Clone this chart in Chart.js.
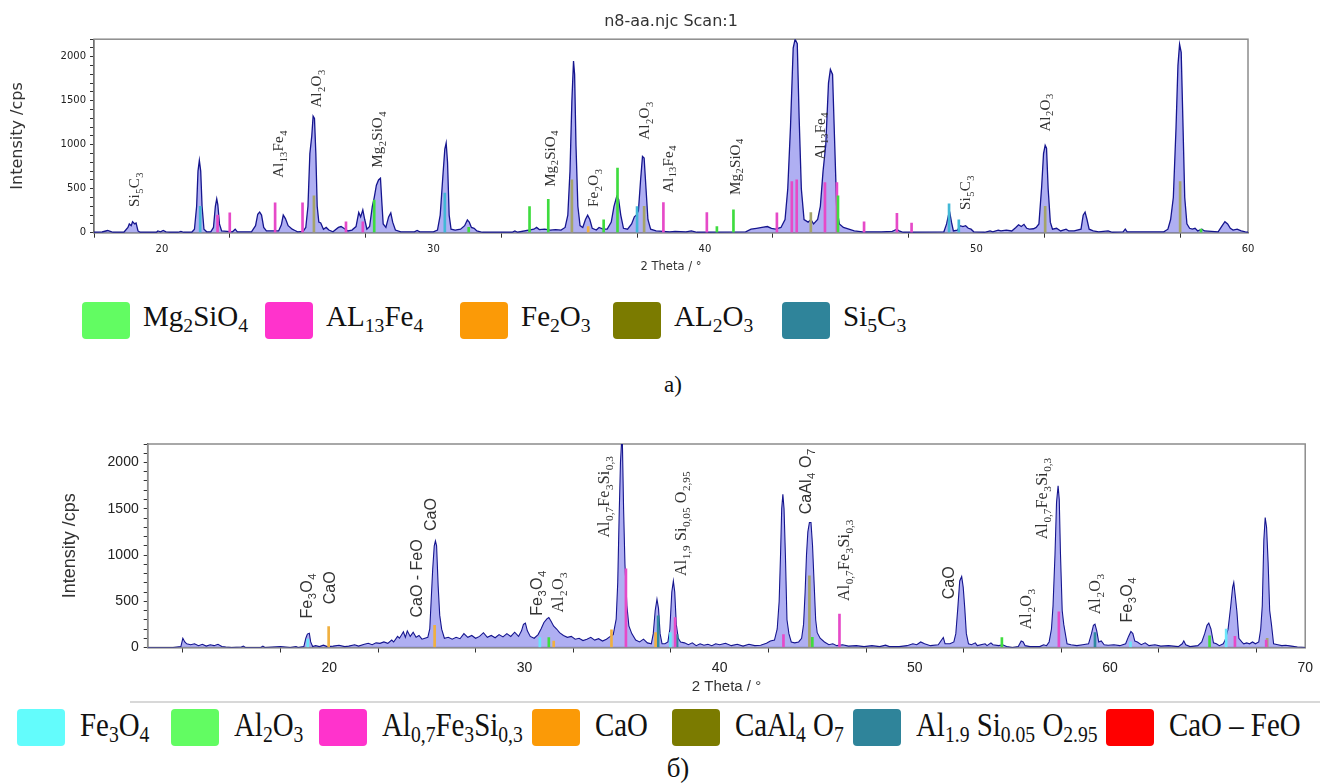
<!DOCTYPE html>
<html>
<head>
<meta charset="utf-8">
<script src="https://cdn.jsdelivr.net/npm/chart.js@4.4.1/dist/chart.umd.min.js"></script>
<style>
  html, body { margin: 0; padding: 0; background: #fff; }
  body { width: 1320px; height: 783px; position: relative; overflow: hidden; }
  .wrap { position: absolute; left: 0; width: 1320px; }
  #wrapA { top: 0; height: 280px; }
  #wrapB { top: 420px; height: 280px; }
  .sw { position: absolute; width: 48px; height: 37px; border-radius: 4px; }
  .lt { position: absolute; font-family: 'Liberation Serif', 'Times New Roman', serif; color: #111;
        white-space: nowrap; line-height: 1; transform-origin: left top; }
  .lt sub { font-size: 0.68em; vertical-align: -0.28em; line-height: 0; }
  .cap { position: absolute; font-family: 'Liberation Serif', serif; color: #111; line-height: 1;
         transform: translateX(-50%); }
  #sep { position: absolute; left: 130px; right: 0; top: 701px; height: 2px; background: #d8d8d8; }
</style>
</head>
<body>
<div class="wrap" id="wrapA"><canvas id="chartA"></canvas></div>
<div class="wrap" id="wrapB"><canvas id="chartB"></canvas></div>
<div id="legendA"></div>
<div id="sep"></div>
<div id="legendB"></div>
<div class="cap" style="left:673px; top:373px; font-size:23px;">a)</div>
<div class="cap" style="left:678px; top:755px; font-size:27px;">б)</div>
<script>
// ---- chart a) : scan n8-aa, 2theta vs intensity ----
const scanA = [
  [17.5,5],[17.8,8],[18.0,25],[18.1,15],[18.2,5],[18.6,5],[18.75,60],[18.8,100],[18.87,80],[18.92,125],
  [19.0,100],[19.05,110],[19.12,20],[19.2,5],[19.8,5],[19.85,20],[19.95,10],[20.05,25],[20.15,10],[20.3,5],
  [20.6,5],[20.7,15],[20.8,5],[21.1,5],[21.2,40],[21.28,300],[21.33,700],[21.38,822],[21.43,700],[21.48,300],
  [21.55,40],[21.65,10],[21.8,10],[21.9,60],[21.97,300],[22.02,385],[22.06,320],[22.12,100],[22.2,20],[22.6,10],
  [22.7,40],[22.78,10],[23.3,10],[23.45,80],[23.53,210],[23.6,235],[23.67,200],[23.75,60],[23.85,20],[24.3,20],
  [24.4,90],[24.47,200],[24.55,160],[24.65,80],[24.8,40],[24.9,25],[25.0,10],[25.2,15],[25.3,60],[25.38,300],
  [25.45,900],[25.52,1100],[25.57,1325],[25.62,1300],[25.67,900],[25.72,300],[25.78,120],[25.85,110],[25.95,40],[26.05,60],
  [26.15,30],[26.3,10],[26.5,60],[26.6,70],[26.7,50],[26.85,20],[27.0,30],[27.15,70],[27.25,230],[27.32,180],
  [27.4,260],[27.47,150],[27.55,40],[27.65,70],[27.75,300],[27.82,400],[27.9,540],[27.98,600],[28.05,620],[28.1,350],
  [28.15,100],[28.25,60],[28.35,180],[28.43,225],[28.5,120],[28.6,30],[28.8,10],[29.3,10],[29.4,25],[29.5,10],
  [30.0,10],[30.15,30],[30.25,200],[30.35,650],[30.42,950],[30.47,1020],[30.52,800],[30.58,200],[30.65,40],[30.8,30],
  [31.0,40],[31.15,80],[31.25,145],[31.32,120],[31.4,60],[31.5,50],[31.6,20],[31.8,5],[32.9,5],[33.0,20],
  [33.1,5],[33.7,40],[33.8,60],[33.9,35],[34.1,40],[34.3,30],[34.5,35],[34.7,30],[34.85,60],[34.95,200],
  [35.03,700],[35.1,1500],[35.16,1952],[35.2,1800],[35.25,1000],[35.32,300],[35.4,80],[35.5,60],[35.6,150],[35.68,200],
  [35.76,150],[35.85,50],[36.0,30],[36.1,60],[36.25,40],[36.4,40],[36.55,120],[36.65,300],[36.75,411],[36.82,380],
  [36.9,200],[37.0,50],[37.15,40],[37.3,100],[37.4,180],[37.47,200],[37.55,250],[37.63,600],[37.7,868],[37.76,850],
  [37.83,500],[37.9,150],[38.0,40],[38.2,20],[38.7,10],[38.9,15],[39.3,10],[39.5,20],[39.7,5],[41.5,10],
  [41.7,40],[41.9,50],[42.1,60],[42.3,70],[42.45,50],[42.6,40],[42.8,60],[42.95,150],[43.05,500],[43.15,1200],
  [43.25,2100],[43.32,2200],[43.4,2150],[43.47,1300],[43.55,500],[43.65,150],[43.8,120],[43.9,150],[44.0,100],[44.15,150],
  [44.25,300],[44.35,700],[44.45,1000],[44.55,1700],[44.62,1857],[44.7,1800],[44.78,1000],[44.85,300],[44.95,100],[45.1,60],
  [45.3,40],[45.5,20],[45.8,10],[46.5,10],[46.9,15],[47.07,40],[47.15,20],[47.3,5],[48.8,10],[48.9,100],
  [48.97,200],[49.02,224],[49.08,120],[49.15,20],[49.3,30],[49.4,80],[49.5,70],[49.6,80],[49.7,50],[49.8,40],
  [49.9,10],[50.3,5],[50.5,20],[50.6,10],[50.8,30],[50.9,20],[51.1,30],[51.3,20],[51.45,60],[51.55,90],
  [51.65,70],[51.75,95],[51.85,50],[51.95,40],[52.1,45],[52.2,60],[52.3,100],[52.4,520],[52.47,900],[52.53,993],
  [52.58,960],[52.64,500],[52.72,120],[52.8,40],[52.95,50],[53.1,20],[53.3,40],[53.4,20],[53.6,20],[53.85,40],
  [53.93,200],[54.0,235],[54.07,150],[54.15,40],[54.3,20],[54.5,10],[54.85,20],[55.0,5],[55.4,10],[55.48,40],
  [55.55,10],[56.9,10],[57.05,40],[57.15,150],[57.25,400],[57.35,1200],[57.42,1900],[57.48,2142],[57.54,2050],[57.6,1300],
  [57.67,400],[57.75,100],[57.85,50],[57.95,40],[58.05,50],[58.15,20],[58.3,40],[58.4,20],[58.9,10],[59.05,80],
  [59.15,125],[59.25,100],[59.35,50],[59.45,30],[59.6,40],[59.75,20],[59.9,10],[60.0,5]
];
// reference lines (2theta, intensity) per phase
const stickA_Mg2SiO4 = [[27.82,370],[31.3,60],[33.54,297],[34.23,380],[36.27,145],[36.78,735],[40.44,70],[41.05,260],[44.9,420],[58.27,40]];
const stickA_Al13Fe4 = [[22.05,200],[22.5,225],[24.17,340],[25.18,340],[26.78,125],[27.4,125],[38.47,342],[40.07,228],
  [42.65,225],[43.2,582],[43.38,600],[44.42,570],[44.86,570],[45.86,125],[47.07,220],[47.61,110]];
const stickA_Fe2O3 = [[35.7,70]];
const stickA_Al2O3 = [[25.6,420],[35.1,600],[37.76,300],[43.9,228],[52.53,300],[57.5,582]];
const stickA_Si5C3 = [[21.41,300],[30.42,450],[37.5,297],[48.99,328],[49.35,145]];
// peak captions: 2theta, intensity at text start, formula
const labelsA = [
  [18.97,293,'Si_{5}C_{3}'],[24.26,624,'Al_{13}Fe_{4}'],[25.67,1423,'Al_{2}O_{3}'],[27.92,739,'Mg_{2}SiO_{4}'],
  [34.27,522,'Mg_{2}SiO_{4}'],[35.86,293,'Fe_{2}O_{3}'],[37.76,1058,'Al_{2}O_{3}'],[38.62,453,'Al_{13}Fe_{4}'],
  [41.08,430,'Mg_{2}SiO_{4}'],[44.21,830,'Al_{13}Fe_{4}'],[49.58,259,'Si_{5}C_{3}'],[52.5,1150,'Al_{2}O_{3}']
];
const xTicksA = [20,25,30,35,40,45,50,55,60];

// ---- chart б) ----
const scanB = [
  [10.7,0],[12.0,0],[12.4,10],[12.5,100],[12.6,60],[12.7,40],[12.9,30],[13.1,40],[13.3,20],[13.5,35],
  [13.7,15],[13.9,30],[14.1,20],[14.3,35],[14.5,10],[14.7,5],[15.0,0],[15.5,5],[15.6,15],[15.7,0],
  [16.5,0],[16.6,15],[16.7,0],[17.5,10],[18.0,0],[18.3,10],[18.4,0],[18.7,10],[18.8,100],[18.88,145],
  [18.98,154],[19.05,60],[19.15,10],[19.3,20],[19.5,10],[19.7,25],[19.9,10],[20.2,15],[20.5,25],[20.8,10],
  [21.0,15],[21.3,30],[21.5,15],[21.8,35],[22.0,45],[22.2,30],[22.4,50],[22.6,45],[22.8,60],[23.0,45],
  [23.2,80],[23.3,60],[23.5,120],[23.6,100],[23.8,170],[23.9,110],[24.0,180],[24.15,120],[24.3,165],[24.45,110],
  [24.6,130],[24.75,90],[24.9,100],[25.05,110],[25.15,200],[25.22,500],[25.3,846],[25.38,1100],[25.44,1153],[25.5,1100],
  [25.58,666],[25.66,350],[25.76,198],[25.9,100],[26.1,110],[26.3,90],[26.5,110],[26.7,95],[26.9,150],[27.1,110],
  [27.3,130],[27.5,100],[27.7,120],[27.9,160],[28.1,110],[28.3,130],[28.5,105],[28.7,140],[28.9,115],[29.1,150],
  [29.3,120],[29.5,165],[29.7,120],[29.85,180],[29.95,250],[30.05,263],[30.15,180],[30.3,120],[30.5,100],[30.7,140],
  [30.85,200],[31.0,270],[31.15,310],[31.25,324],[31.35,290],[31.5,230],[31.65,200],[31.8,160],[32.0,130],[32.2,110],
  [32.4,120],[32.6,90],[32.8,100],[33.0,75],[33.2,90],[33.4,110],[33.6,80],[33.8,95],[34.0,70],[34.2,90],
  [34.4,120],[34.55,140],[34.7,306],[34.78,700],[34.85,1400],[34.92,2000],[34.97,2200],[35.02,2200],[35.08,1500],[35.15,900],
  [35.25,450],[35.35,234],[35.5,150],[35.7,80],[35.9,60],[36.1,90],[36.3,50],[36.5,40],[36.6,150],[36.7,400],
  [36.79,522],[36.87,420],[36.95,150],[37.05,40],[37.2,40],[37.35,60],[37.45,200],[37.55,600],[37.63,720],[37.7,600],
  [37.78,250],[37.88,100],[38.0,60],[38.2,50],[38.4,30],[38.6,50],[38.8,20],[39.0,40],[39.2,25],[39.4,35],
  [39.6,20],[39.8,40],[40.0,30],[40.3,45],[40.6,20],[40.9,35],[41.2,15],[41.5,35],[41.8,20],[42.1,25],
  [42.4,45],[42.6,70],[42.81,80],[42.95,200],[43.05,500],[43.12,1000],[43.18,1500],[43.24,1657],[43.3,1500],[43.37,1000],
  [43.45,300],[43.55,150],[43.67,60],[43.85,50],[44.05,60],[44.2,100],[44.3,250],[44.38,600],[44.45,1000],[44.52,1250],
  [44.6,1351],[44.68,1351],[44.76,1100],[44.84,700],[44.92,300],[45.0,160],[45.15,100],[45.37,60],[45.6,30],[45.8,40],
  [46.0,20],[46.3,30],[46.6,15],[47.0,20],[47.4,10],[47.8,20],[48.2,10],[48.5,25],[48.7,10],[49.2,10],
  [49.6,20],[49.9,40],[50.1,30],[50.3,60],[50.5,40],[50.8,20],[51.2,30],[51.46,108],[51.55,40],[51.8,40],
  [52.0,60],[52.1,150],[52.2,420],[52.3,720],[52.4,767],[52.48,650],[52.56,420],[52.64,150],[52.75,40],[52.9,30],
  [53.1,50],[53.2,20],[53.6,40],[53.7,20],[53.9,50],[54.0,30],[54.3,20],[54.5,30],[54.7,10],[55.0,0],
  [55.3,10],[55.45,70],[55.55,60],[55.65,20],[55.9,10],[56.4,10],[56.6,30],[56.75,20],[56.88,60],[57.0,200],
  [57.08,450],[57.18,1000],[57.26,1570],[57.34,1747],[57.4,1600],[57.46,1027],[57.55,400],[57.63,250],[57.8,40],[58.0,30],
  [58.3,20],[58.6,30],[58.9,40],[59.05,150],[59.15,240],[59.23,252],[59.32,180],[59.42,60],[59.55,70],[59.7,30],
  [59.9,25],[60.2,30],[60.5,20],[60.8,40],[60.95,120],[61.07,173],[61.17,150],[61.27,70],[61.4,60],[61.6,30],
  [61.8,50],[62.0,20],[62.3,30],[62.6,15],[63.0,20],[63.5,10],[63.7,40],[63.78,72],[63.88,30],[64.1,10],
  [64.5,20],[64.7,60],[64.85,150],[64.97,240],[65.06,263],[65.17,200],[65.3,50],[65.45,40],[65.6,20],[65.8,40],
  [65.9,80],[66.05,200],[66.18,440],[66.28,650],[66.34,703],[66.42,550],[66.5,390],[66.6,100],[66.75,60],[66.85,40],
  [67.0,50],[67.15,40],[67.3,60],[67.45,40],[67.62,60],[67.72,200],[67.8,450],[67.88,1160],[67.95,1405],[68.02,1300],
  [68.1,918],[68.18,400],[68.27,250],[68.38,40],[68.6,30],[68.8,20],[69.0,25],[69.3,15],[69.6,5],[70.0,0]
];
const stickB_Fe3O4 = [[18.9,90],[30.79,108],[37.48,162],[61.05,60],[65.95,200]];
const stickB_Al2O3 = [[31.25,108],[44.75,110],[54.46,108],[65.1,126]];
const stickB_AlFeSi = [[35.2,850],[37.72,324],[43.27,140],[46.14,360],[57.38,385],[66.4,120],[68.0,80]];
const stickB_CaO = [[19.97,227],[25.4,240],[31.5,70],[34.46,190],[36.72,160]];
const stickB_CaAl4O7 = [[44.6,774],[68.05,100]];
const stickB_AlSiO = [[36.85,342],[37.82,140],[59.23,160]];
const labelsB = [
  [18.82,313,'Fe_{3}O_{4}'],[20.0,468,'CaO'],[24.45,324,'CaO - FeO'],[25.17,1260,'CaO'],
  [30.59,342,'Fe_{3}O_{4}'],[31.7,378,'Al_{2}O_{3}'],[34.07,1189,'Al_{0,7}Fe_{3}Si_{0,3}'],
  [38.0,774,'Al_{1,9} Si_{0,05} O_{2,95}'],[44.4,1441,'CaAl_{4} O_{7}'],[46.36,504,'Al_{0,7}Fe_{3}Si_{0,3}'],
  [51.7,522,'CaO'],[55.68,198,'Al_{2}O_{3}'],[56.5,1171,'Al_{0,7}Fe_{3}Si_{0,3}'],[59.18,360,'Al_{2}O_{3}'],
  [60.85,270,'Fe_{3}O_{4}']
];
const xTicksB = [15,20,25,30,35,40,45,50,55,60,65,70];

const yTicks = [0,100,200,300,400,500,600,700,800,900,1000,1100,1200,1300,1400,1500,1600,1700,1800,1900,2000,2100,2200];

const legendA = ['Mg_{2}SiO_{4}', 'AL_{13}Fe_{4}', 'Fe_{2}O_{3}', 'AL_{2}O_{3}', 'Si_{5}C_{3}'];
const legendB = ['Fe_{3}O_{4}', 'Al_{2}O_{3}', 'Al_{0,7}Fe_{3}Si_{0,3}', 'CaO', 'CaAl_{4} O_{7}',
  'Al_{1.9} Si_{0.05} O_{2.95}', 'CaO – FeO'];

// styles / layout
const legendAColors = ['#62fc62', '#ff33cc', '#fb9a07', '#7b7b00', '#2f849a'];
const legendBColors = ['#63fcfc', '#62fc62', '#ff33cc', '#fb9a07', '#7b7b00', '#2f849a', '#ff0000'];
const legendALeft = [82, 265, 460, 613, 782];
const legendBLeft = [17, 171, 319, 532, 672, 853, 1106];

const SERIF = "'Liberation Serif', 'Times New Roman', serif";
const WIDE = "'DejaVu Sans', sans-serif";
const NARROW = "'Liberation Sans Narrow', 'Liberation Sans', sans-serif";
const SANS = "'Liberation Sans', Arial, sans-serif";

function splitFormula(t) {
  const parts = [];
  const re = /_\{([^}]*)\}/g;
  let last = 0, m;
  while ((m = re.exec(t))) {
    if (m.index > last) parts.push({ s: t.slice(last, m.index), sub: false });
    parts.push({ s: m[1], sub: true });
    last = re.lastIndex;
  }
  if (last < t.length) parts.push({ s: t.slice(last), sub: false });
  return parts;
}
const formulaHtml = t => t.replace(/_\{([^}]*)\}/g, '<sub>$1</sub>');

// gray box round the plot area
const frame = {
  id: 'frame',
  beforeDatasetsDraw(chart) {
    const { ctx, chartArea: a } = chart;
    ctx.save();
    ctx.strokeStyle = '#8c8c8c';
    ctx.lineWidth = 1.5;
    ctx.strokeRect(a.left, a.top, a.right - a.left, a.bottom - a.top);
    ctx.restore();
  }
};

// vertical phase captions with subscripts
function peakLabels(items, size, sansSet) {
  return {
    id: 'peakLabels',
    afterDatasetsDraw(chart) {
      const { ctx, scales: { x, y } } = chart;
      ctx.save();
      ctx.fillStyle = '#333';
      ctx.textBaseline = 'alphabetic';
      for (const [vx, vy, txt] of items) {
        const family = sansSet.has(txt) ? SANS : SERIF;
        ctx.save();
        ctx.translate(x.getPixelForValue(vx), y.getPixelForValue(vy));
        ctx.rotate(-Math.PI / 2);
        let cx = 0;
        for (const p of splitFormula(txt)) {
          const fs = p.sub ? size * 0.7 : size;
          ctx.font = fs + 'px ' + family;
          ctx.fillText(p.s, cx, size * 0.35 + (p.sub ? size * 0.25 : 0));
          cx += ctx.measureText(p.s).width + (p.sub ? 0.3 : 0.6);
        }
        ctx.restore();
      }
      ctx.restore();
    }
  };
}

const toXY = arr => arr.map(([x, y]) => ({ x, y }));
function scanSet(arr, width) {
  return {
    type: 'line', data: toXY(arr), borderColor: '#15158e', borderWidth: width,
    backgroundColor: 'rgba(110,110,232,0.55)', fill: 'origin', pointRadius: 0, tension: 0, order: 2
  };
}
function stickSet(arr, color) {
  return {
    type: 'bar', data: toXY(arr), backgroundColor: color, barThickness: 2,
    stack: 'sticks', order: 1
  };
}

function axes(o) {
  return {
    x: {
      type: 'linear', min: o.xmin, max: o.xmax, offset: false,
      afterBuildTicks: s => { s.ticks = o.xTicks.map(v => ({ value: v })); },
      afterFit: s => { s.height = o.xh; },
      ticks: { autoSkip: false, maxRotation: 0, padding: o.xpad, color: '#222',
        font: { family: o.tickFont, size: o.tickSize }, callback: v => (v % 10 === 0 ? v : '') },
      grid: { drawOnChartArea: false, tickLength: 5, color: '#333' },
      border: { color: '#222', width: 1.3 },
      title: { display: true, text: '2 Theta / °', color: '#333',
        font: { family: o.tickFont, size: o.xTitleSize }, padding: { top: 0, bottom: o.xTitlePad } }
    },
    y: {
      min: 0, max: 2200, stacked: false,
      afterBuildTicks: s => { s.ticks = yTicks.map(v => ({ value: v })); },
      afterFit: s => { s.width = o.yw; },
      ticks: { autoSkip: false, padding: o.ypad, color: '#222',
        font: { family: o.tickFont, size: o.tickSize }, callback: v => (v % 500 === 0 ? v : '') },
      grid: { drawOnChartArea: false, tickLength: 4, color: '#333' },
      border: { color: '#222', width: 1.3 },
      title: { display: true, text: 'Intensity /cps', color: '#333',
        font: { family: o.yTitleFont, size: o.yTitleSize }, padding: { top: o.yTitlePad, bottom: 0 } }
    }
  };
}

new Chart(document.getElementById('chartA'), {
  type: 'line',
  data: {
    datasets: [
      scanSet(scanA, 1.3),
      stickSet(stickA_Mg2SiO4, '#3fdc3f'),
      stickSet(stickA_Al13Fe4, '#e64ac8'),
      stickSet(stickA_Fe2O3, '#f0b040'),
      stickSet(stickA_Al2O3, '#a4a46a'),
      stickSet(stickA_Si5C3, '#42b8d6')
    ]
  },
  options: {
    responsive: true, maintainAspectRatio: false, animation: false,
    layout: { padding: { left: 0, right: 72, top: 4, bottom: 0 } },
    plugins: {
      legend: { display: false }, tooltip: { enabled: false },
      title: { display: true, fullSize: false, text: 'n8-aa.njc Scan:1', color: '#333',
        font: { family: WIDE, size: 16, weight: 'normal' }, padding: { top: 8, bottom: 8 } }
    },
    scales: axes({ xmin: 17.5, xmax: 60, xTicks: xTicksA, xh: 47.3, xpad: 6, tickFont: WIDE, tickSize: 10,
      xTitleSize: 11.5, xTitlePad: 6, yw: 94, ypad: 4, yTitleFont: WIDE, yTitleSize: 16, yTitlePad: 8 })
  },
  plugins: [frame, peakLabels(labelsA, 15, new Set())]
});

new Chart(document.getElementById('chartB'), {
  type: 'line',
  data: {
    datasets: [
      scanSet(scanB, 1.1),
      stickSet(stickB_Fe3O4, '#6ae6fa'),
      stickSet(stickB_Al2O3, '#3fdc3f'),
      stickSet(stickB_AlFeSi, '#e64ac8'),
      stickSet(stickB_CaO, '#f0b040'),
      stickSet(stickB_CaAl4O7, '#a4a46a'),
      stickSet(stickB_AlSiO, '#2f8aa0')
    ]
  },
  options: {
    responsive: true, maintainAspectRatio: false, animation: false,
    layout: { padding: { left: 55, right: 14, top: 24, bottom: 0 } },
    plugins: { legend: { display: false }, tooltip: { enabled: false } },
    scales: axes({ xmin: 10.7, xmax: 70, xTicks: xTicksB, xh: 52.5, xpad: 7, tickFont: NARROW, tickSize: 14,
      xTitleSize: 15, xTitlePad: 4.3, yw: 92.7, ypad: 5, yTitleFont: SANS, yTitleSize: 18, yTitlePad: 4 })
  },
  plugins: [frame, peakLabels(labelsB, 16, new Set(['CaO', 'CaO - FeO', 'Fe_{3}O_{4}', 'CaAl_{4} O_{7}']))]
});

// HTML legends (formulas need subscripts)
function buildLegend(id, names, colors, lefts, top, size, textTop, gap, squeeze) {
  const box = document.getElementById(id);
  names.forEach((n, i) => {
    const sw = document.createElement('div');
    sw.className = 'sw';
    sw.style.cssText = `left:${lefts[i]}px;top:${top}px;background:${colors[i]}`;
    const t = document.createElement('div');
    t.className = 'lt';
    t.style.cssText = `left:${lefts[i] + gap}px;top:${textTop}px;font-size:${size}px;transform:scaleX(${squeeze})`;
    t.innerHTML = formulaHtml(n);
    box.appendChild(sw);
    box.appendChild(t);
  });
}
buildLegend('legendA', legendA, legendAColors, legendALeft, 302, 29, 302, 61, 1);
buildLegend('legendB', legendB, legendBColors, legendBLeft, 709, 34, 708, 63, 0.85);
</script>
</body>
</html>
